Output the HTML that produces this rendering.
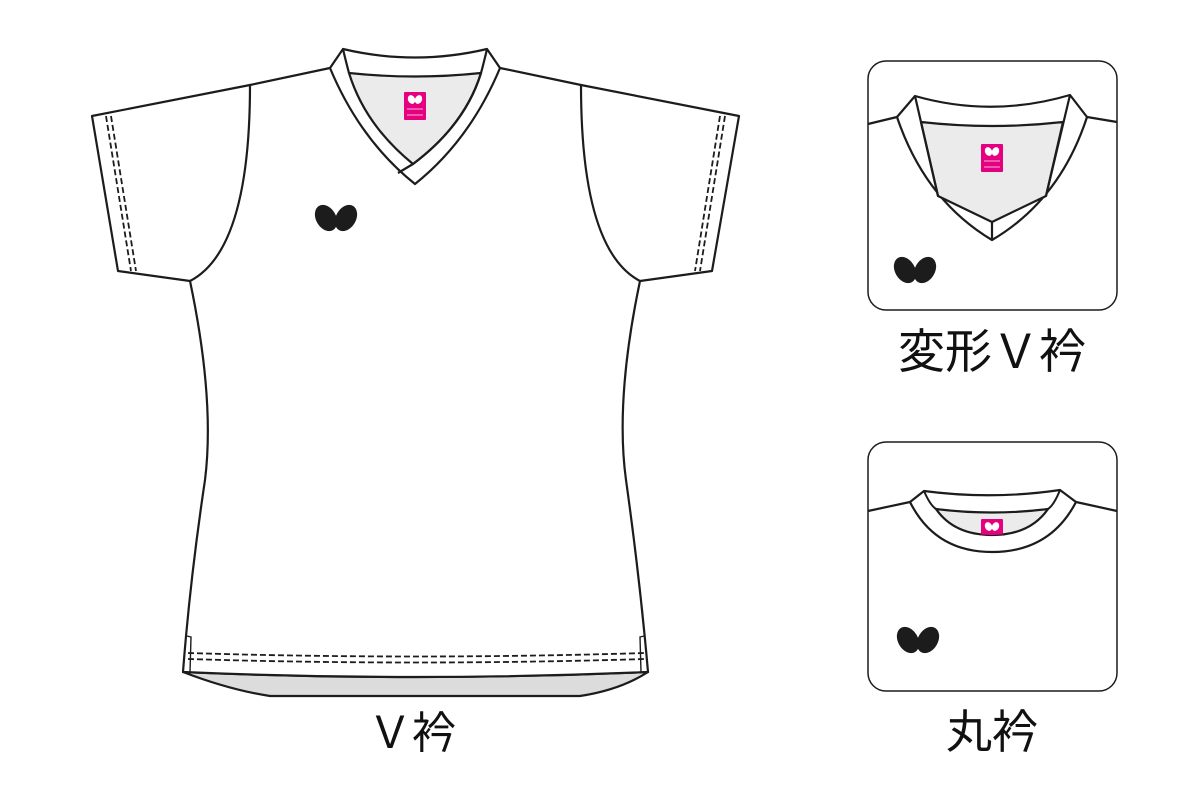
<!DOCTYPE html>
<html><head><meta charset="utf-8"><style>
html,body{margin:0;padding:0;background:#fff;width:1200px;height:800px;overflow:hidden}
svg{display:block}
text{font-family:"Liberation Sans","Noto Sans CJK JP",sans-serif;fill:#111}
</style></head><body>
<svg width="1200" height="800" viewBox="0 0 1200 800" xmlns="http://www.w3.org/2000/svg">
<defs>
<g id="tag"><rect x="0" y="0" width="22" height="28" rx="1" fill="#e4007f"/>
<ellipse cx="7.5" cy="7.5" rx="3.5" ry="4.5" fill="#fff" transform="rotate(-25 7.5 7.5)"/>
<ellipse cx="14.5" cy="7.5" rx="3.5" ry="4.5" fill="#fff" transform="rotate(25 14.5 7.5)"/>
<line x1="3" y1="17" x2="19" y2="17" stroke="#fff" stroke-width="0.7"/>
<line x1="3" y1="23" x2="19" y2="23" stroke="#fff" stroke-width="0.7"/></g>
<g id="logo"><ellipse cx="-10" cy="0" rx="10" ry="14" fill="#1c1c1c" transform="rotate(-30 -10 0)"/>
<ellipse cx="10" cy="0" rx="10" ry="14" fill="#1c1c1c" transform="rotate(30 10 0)"/></g>
</defs>
<g fill="#fff" stroke="#1c1c1c" stroke-width="2.2" stroke-linejoin="round">
<path d="M183 672 Q230 690 270 696 L580 696 Q620 690 648 672 Q415 682 183 672Z" fill="#dcdcdc"/>
<path d="M330 68 L250 85 L92 116 L118 271 L190 281 Q215 400 205 480 Q190 580 183 672 Q415 682 648 672 Q640 580 626 480 Q615 400 640 281 L712 271 L739 116 L581 85 L500 68 Z"/>
<path d="M250 85 Q250 250 190 281" fill="none"/>
<path d="M581 85 Q581 250 640 281" fill="none"/>
<!-- collar band -->
<path d="M330 68 L343 49 Q415 66 487 49 L500 68 Q470 140 415 184 Q360 140 330 68Z"/>
<!-- gray inner -->
<path d="M349 73 Q415 80 481 73 Q465 125 413 164 Q365 125 349 73Z" fill="#ebebeb"/>
<path d="M343 49 Q346 62 349 73" fill="none"/>
<path d="M487 49 Q484 62 481 73 Q465 125 413 164 L398 173" fill="none"/>
</g>
<g fill="none" stroke="#1c1c1c" stroke-width="1.8" stroke-dasharray="6 3">
<line x1="106" y1="116" x2="131" y2="271"/><line x1="111" y1="116" x2="136" y2="271"/>
<line x1="725" y1="116" x2="700" y2="271"/><line x1="720" y1="116" x2="695" y2="271"/>
<path d="M188 653 Q415 660 645 653"/><path d="M188 659 Q415 666 645 659"/>
</g>
<g stroke="#1c1c1c" stroke-width="1.4" fill="none">
<path d="M187 636 L191 637 L190 672"/><path d="M644 636 L640 637 L641 672"/>
</g>
<use href="#tag" x="404" y="92"/>
<use href="#logo" x="336" y="218"/>
<text x="412" y="748" font-size="44" text-anchor="middle">Ｖ衿</text>

<rect x="868" y="61" width="249" height="249" rx="18" fill="#fff" stroke="#1c1c1c" stroke-width="1.5"/>
<g fill="#fff" stroke="#1c1c1c" stroke-width="2.2" stroke-linejoin="round">
<path d="M868 124 L897 117" fill="none"/><path d="M1087 117 L1117 122" fill="none"/>
<path d="M897 117 L915 96 Q992 118 1070 95 L1087 117 Q1060 200 992 240 Q925 200 897 117Z"/>
<path d="M921 122 Q992 130 1063 122 L1046 196 L992 222 L938 196 Z" fill="#ebebeb"/>
<path d="M915 96 L938 196 M1070 95 L1046 196 M992 222 L992 240" fill="none"/>
</g>
<use href="#tag" x="981" y="144"/>
<use href="#logo" x="915" y="270"/>
<text x="992" y="368" font-size="47" text-anchor="middle">変形Ｖ衿</text>

<rect x="868" y="442" width="249" height="249" rx="18" fill="#fff" stroke="#1c1c1c" stroke-width="1.5"/>
<g fill="#fff" stroke="#1c1c1c" stroke-width="2.2" stroke-linejoin="round">
<path d="M868 511 L910 502" fill="none"/><path d="M1076 502 L1117 511" fill="none"/>
<path d="M910 502 L924 491 Q992 500 1060 490 L1076 502 Q1050 552 992 552 Q935 552 910 502Z"/>
<path d="M936 509 Q992 516 1048 509 Q1030 535 992 535 Q954 535 936 509Z" fill="#ebebeb"/>
</g>
<clipPath id="c2"><path d="M936 509 Q992 516 1048 509 Q1030 535 992 535 Q954 535 936 509Z"/></clipPath>
<g clip-path="url(#c2)"><use href="#tag" x="981" y="519"/></g>
<path d="M924 491 Q930 505 936 509 M1060 490 Q1054 505 1048 509" fill="none" stroke="#1c1c1c" stroke-width="2"/>
<use href="#logo" x="918" y="640"/>
<text x="992" y="748" font-size="46" text-anchor="middle">丸衿</text>
</svg>
</body></html>
